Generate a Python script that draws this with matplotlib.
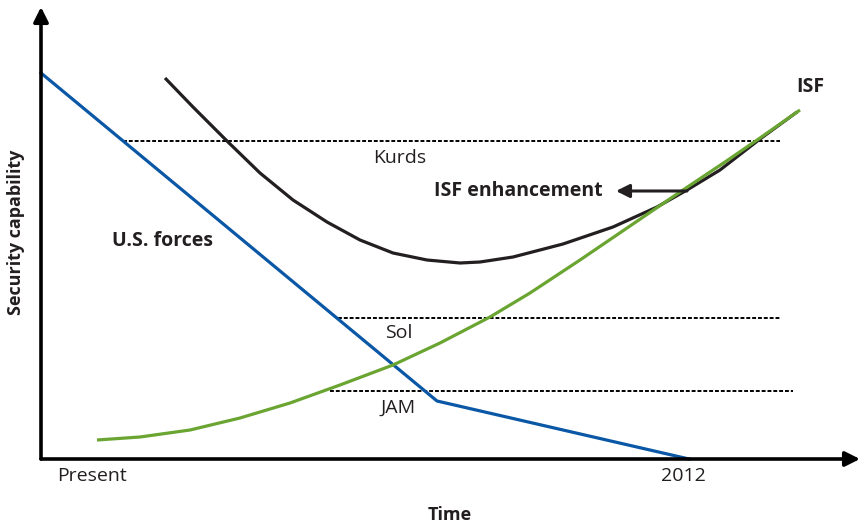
import matplotlib
matplotlib.use('Agg')
import matplotlib.pyplot as plt

# chart units: x = time (Present at 0), y = security capability
us_x = [0, 396, 648]
us_y = [386, 58, 0]

isf_x = [56, 99, 149, 199, 249, 299, 352, 399, 449, 489, 539, 589, 639, 684, 719, 759]
isf_y = [19, 22, 29, 41, 56, 74, 94, 116, 142, 166, 199, 233, 267, 297, 321, 349]

enh_x = [124, 152, 186, 219, 252, 286, 319, 352, 386, 419, 439, 472, 522, 572,
         616, 646, 679, 719, 756]
enh_y = [381, 352, 318, 286, 259, 237, 219, 206, 199, 196, 197, 202, 215, 232,
         252, 269, 289, 320, 347]

levels = ['Kurds', 'Sol', 'JAM']
level_y = [318, 141, 68]
level_x0 = [82, 297, 289]
level_x1 = [739, 739, 752]
level_lab_x = [359, 358, 357]
level_lab_y = [301, 126, 51]

plt.rcParams['font.family'] = ['Open Sans', 'DejaVu Sans']
txt = '#231f20'
blue = '#0a57a6'
green = '#6aa532'

fig = plt.figure(figsize=(8.62, 5.27), dpi=100)
ax = fig.add_axes([0, 0, 1, 1])
ax.set_xlim(-41, 821)
ax.set_ylim(-68, 459)
ax.axis('off')

# axes with arrow heads
ax.annotate('', xy=(819, 0), xytext=(0, 0),
            arrowprops=dict(arrowstyle='-|>', lw=2.6, color='black',
                            mutation_scale=22, shrinkA=0, shrinkB=0))
ax.annotate('', xy=(0, 452), xytext=(0, 0),
            arrowprops=dict(arrowstyle='-|>', lw=2.6, color='black',
                            mutation_scale=22, shrinkA=0, shrinkB=0))

for name, y, x0, x1, lx, ly in zip(levels, level_y, level_x0, level_x1,
                                   level_lab_x, level_lab_y):
    ax.plot([x0, x1], [y, y], color='black', lw=1.4, ls=(0, (2.0, 1.0)))
    ax.text(lx, ly, name, ha='center', va='center', fontsize=14, color=txt)

ax.plot(us_x, us_y, color=blue, lw=2.3, solid_joinstyle='round')
ax.plot(enh_x, enh_y, color=txt, lw=2.3, solid_capstyle='butt',
        solid_joinstyle='round')
ax.plot(isf_x, isf_y, color=green, lw=2.3, solid_capstyle='butt',
        solid_joinstyle='round')

ax.text(122, 218, 'U.S. forces', ha='center', va='center', fontsize=14,
        fontweight='bold', color=txt)
ax.text(769, 372, 'ISF', ha='center', va='center', fontsize=14,
        fontweight='bold', color=txt)
ax.text(562, 268, 'ISF enhancement', ha='right', va='center', fontsize=14,
        fontweight='bold', color=txt)
ax.annotate('', xy=(575, 268), xytext=(646, 268),
            arrowprops=dict(arrowstyle='-|>', lw=2.2, color=txt,
                            mutation_scale=20, shrinkA=0, shrinkB=0))

ax.text(51, -17, 'Present', ha='center', va='center', fontsize=14, color=txt)
ax.text(642, -17, '2012', ha='center', va='center', fontsize=14, color=txt)
ax.text(409, -56, 'Time', ha='center', va='center', fontsize=13,
        fontweight='bold', color=txt)
ax.text(-25, 227, 'Security capability', ha='center', va='center', fontsize=13,
        fontweight='bold', rotation=90, color=txt)

fig.savefig('out.png', dpi=100)
